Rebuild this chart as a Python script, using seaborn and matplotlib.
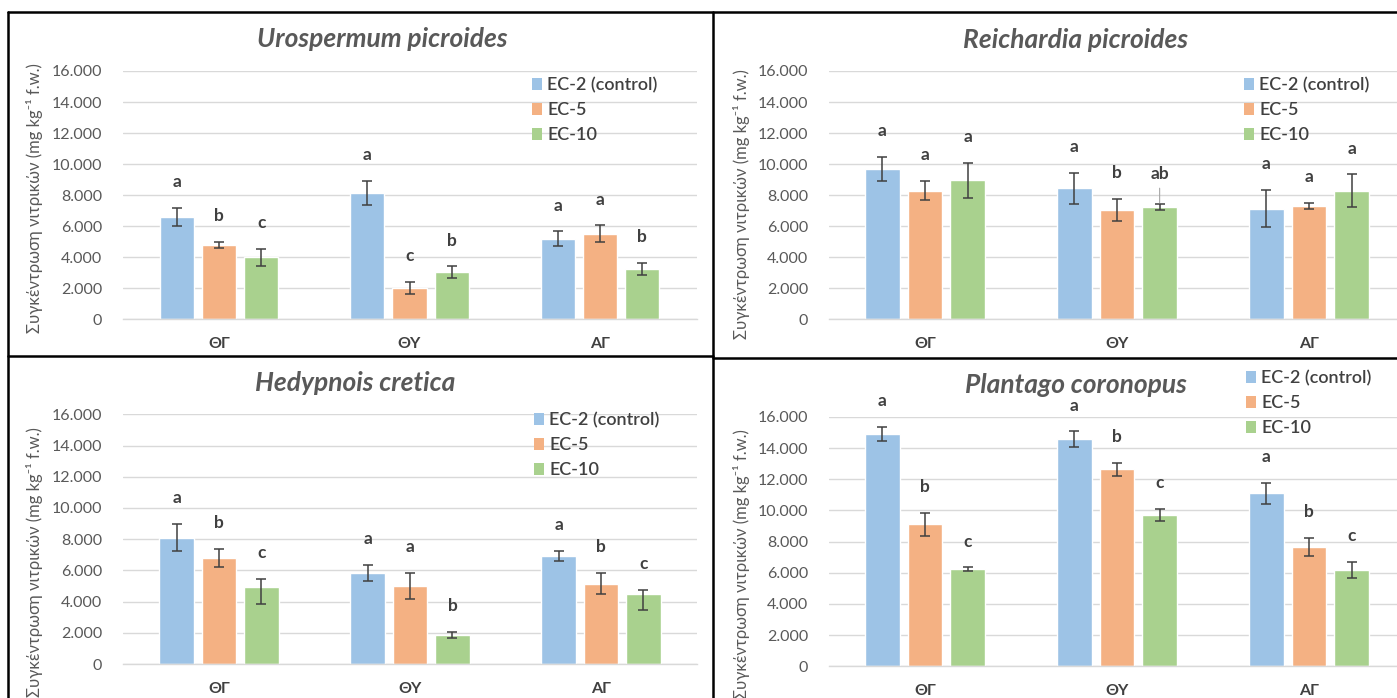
import matplotlib
matplotlib.use("Agg")
import matplotlib.pyplot as plt
from matplotlib.lines import Line2D
from matplotlib.patches import Patch
from matplotlib.ticker import FuncFormatter, MultipleLocator
import seaborn as sns
import pandas as pd

# ---------------- data ----------------
categories = ["ΘΓ", "ΘΥ", "ΑΓ"]
treatments = ["EC-2 (control)", "EC-5", "EC-10"]
colors = ["#9DC3E6", "#F4B183", "#A9D18E"]

# means (mg kg-1 f.w.), rows = treatments, columns = categories
uro_mean = [[6590, 8140, 5190], [4810, 2020, 5500], [3990, 3030, 3260]]
uro_err = [[590, 770, 470], [190, 390, 550], [560, 380, 380]]
uro_letters = [["a", "a", "a"], ["b", "c", "a"], ["c", "b", "b"]]

rei_mean = [[9660, 8440, 7130], [8290, 7060, 7280], [8970, 7220, 8290]]
rei_err = [[780, 1000, 1200], [620, 700, 200], [1130, 200, 1050]]
rei_letters = [["a", "a", "a"], ["a", "b", "a"], ["a", "ab", "a"]]

hed_mean = [[8100, 5850, 6920], [6770, 5000, 5150], [4940, 1840, 4470]]
hed_err = [[850, 500, 300], [580, 810, 660], [(1120, 510), 200, (1030, 290)]]
hed_letters = [["a", "a", "a"], ["b", "a", "b"], ["c", "b", "c"]]

pla_mean = [[14930, 14570, 11100], [9110, 12640, 7680], [6220, 9710, 6160]]
pla_err = [[450, 500, 660], [740, 420, 580], [130, 380, 520]]
pla_letters = [["a", "a", "a"], ["b", "b", "b"], ["c", "c", "c"]]

titles = ["Urospermum picroides", "Reichardia picroides",
          "Hedypnois cretica", "Plantago coronopus"]
ylabel = "Συγκέντρωση νιτρικών (mg kg⁻¹ f.w.)"
leader_lines = [("Reichardia picroides", 1, 2)]  # (panel, category idx, treatment idx)

panels = [
    (titles[0], uro_mean, uro_err, uro_letters),
    (titles[1], rei_mean, rei_err, rei_letters),
    (titles[2], hed_mean, hed_err, hed_letters),
    (titles[3], pla_mean, pla_err, pla_letters),
]

# ---------------- layout (pixels) ----------------
W, H = 1397, 698
layout = {
    titles[0]: dict(ax=(123, 697, 319.3, 71), cats=(219, 190.5), title=(382, 39), ylab=(35, 198), leg=(532, 77)),
    titles[1]: dict(ax=(829, 1397, 319.3, 71), cats=(925, 192), title=(1076, 40), ylab=(742, 204), leg=(1244, 77)),
    titles[2]: dict(ax=(123, 697, 664, 414.3), cats=(219, 191), title=(355, 383), ylab=(35, 562), leg=(534, 412)),
    titles[3]: dict(ax=(829, 1397, 666.3, 417), cats=(925, 192), title=(1076, 385), ylab=(742, 564), leg=(1246, 370)),
}

sns.set_style("white")
plt.rcParams["font.family"] = ["Lato", "Noto Sans", "DejaVu Sans"]

fig = plt.figure(figsize=(W / 100, H / 100), dpi=100)
fig.patch.set_facecolor("white")

GREY = "#595959"
DARK = "#404040"


def fx(x):
    return x / W


def fy(y):
    return 1 - y / H


for name, mean, err, letters in panels:
    L = layout[name]
    left, right, y0, y16 = L["ax"]
    ax = fig.add_axes([fx(left), fy(y0), (right - left) / W, (y0 - y16) / H])

    rows = []
    for ti, t in enumerate(treatments):
        for ci, c in enumerate(categories):
            rows.append({"cat": c, "trt": t, "val": mean[ti][ci]})
    df = pd.DataFrame(rows)

    sns.barplot(data=df, x="cat", y="val", hue="trt", order=categories,
                hue_order=treatments, palette=colors, saturation=1,
                errorbar=None, width=0.666, gap=0.19, legend=False, ax=ax,
                zorder=2)

    bar_containers = list(ax.containers)
    # error bars + letters
    for ti, cont in enumerate(bar_containers):
        for ci, bar in enumerate(cont.patches):
            x = bar.get_x() + bar.get_width() / 2
            h = bar.get_height()
            e = err[ti][ci]
            if isinstance(e, tuple):
                lo, hi = e
            else:
                lo = hi = e
            ax.errorbar(x, h, yerr=[[lo], [hi]], fmt="none", ecolor=DARK,
                        elinewidth=1.1, capsize=3.8, capthick=1.1, zorder=3)
            lead = (name, ci, ti) in leader_lines
            ax.annotate(letters[ti][ci], (x, h + hi),
                        xytext=(0, 18 if lead else 15), textcoords="offset points",
                        ha="center", va="baseline", fontsize=12.5,
                        fontweight="bold", color=DARK, zorder=4,
                        arrowprops=(dict(arrowstyle="-", color="#A6A6A6", lw=0.8,
                                         shrinkA=2, shrinkB=1) if lead else None))

    c0, step = L["cats"]
    ax.set_xlim((left - c0) / step, (right - c0) / step)
    ax.set_ylim(0, 16000)
    ax.yaxis.set_major_locator(MultipleLocator(2000))
    ax.yaxis.set_major_formatter(FuncFormatter(lambda v, p: f"{int(round(v)):,}".replace(",", ".")))
    ax.grid(axis="y", color="#D9D9D9", lw=1, zorder=0)
    ax.grid(axis="x", visible=False)
    ax.set_axisbelow(True)
    for s in ["top", "right", "left"]:
        ax.spines[s].set_visible(False)
    ax.spines["bottom"].set_color("#D9D9D9")
    ax.spines["bottom"].set_linewidth(1)
    ax.tick_params(axis="y", length=0, pad=15, labelsize=11.5, labelcolor=GREY)
    ax.tick_params(axis="x", length=0, pad=13, labelsize=11.5, labelcolor=DARK)
    for lab in ax.get_xticklabels():
        lab.set_fontweight("bold")
    ax.set_xlabel("")
    ax.set_ylabel("")
    ax.patch.set_alpha(0)

    # title and y label
    tx, ty = L["title"]
    fig.text(fx(tx), fy(ty), name, ha="center", va="center", fontsize=19,
             fontweight="bold", fontstyle="italic", color=GREY)
    lx, ly = L["ylab"]
    fig.text(fx(lx), fy(ly), ylabel, ha="center", va="center", rotation=90,
             fontsize=12, color=GREY)

    # legend
    handles = [Patch(facecolor=c, edgecolor="none") for c in colors]
    gx, gy = L["leg"]
    ax.legend(handles, treatments, loc="upper left",
              bbox_to_anchor=(fx(gx), fy(gy)), bbox_transform=fig.transFigure,
              frameon=False, handlelength=0.55, handleheight=0.6,
              handletextpad=0.3, labelspacing=0.5, borderpad=0, borderaxespad=0,
              labelcolor=DARK, prop={"weight": "semibold", "size": 13})

# panel borders
def line(x1, y1, x2, y2):
    fig.add_artist(Line2D([fx(x1), fx(x2)], [fy(y1), fy(y2)],
                          transform=fig.transFigure, color="black", lw=1.8))

line(8, 12, 1397, 12)
line(8, 12, 8, 698)
line(713, 12, 713, 698)
line(8, 356, 713, 356)
line(713, 357.5, 1397, 357.5)

fig.savefig("out.png", dpi=100, facecolor="white")
